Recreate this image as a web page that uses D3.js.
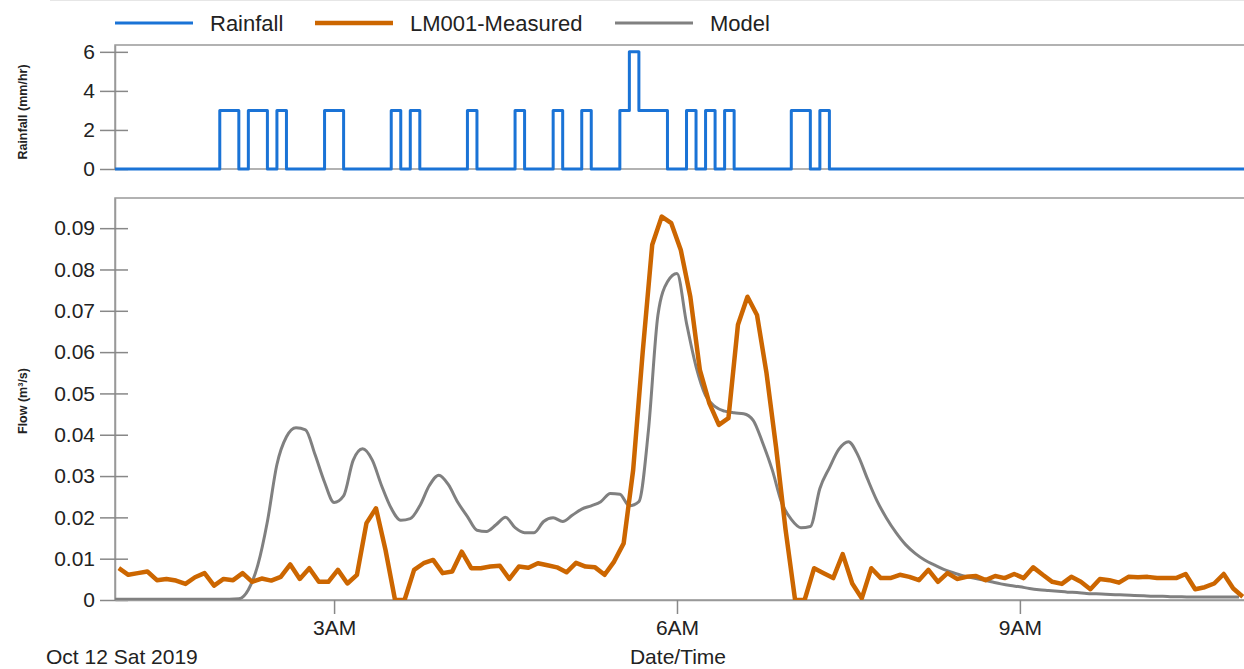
<!DOCTYPE html>
<html>
<head>
<meta charset="utf-8">
<script src="https://cdn.jsdelivr.net/npm/d3@7"></script>
<style>
  body { margin: 0; background: #fff; }
  svg { display: block; font-family: "Liberation Sans", Arial, sans-serif; }
</style>
</head>
<body>
<svg></svg>
<script>
// layout
var width = 1244;
var height = 669;
var left = 115;
var right = 1248.5;
var rainTop = 45, rainBottom = 169;
var flowTop = 198, flowBottom = 600;

// data
var chartStart = '01:05';
var chartEnd = '11:00';
var seriesNames = ['Rainfall', 'LM001-Measured', 'Model'];
var seriesColors = ['#1a73d6', '#cc6600', '#808080'];

var rainTimes = ['01:05', '02:00', '02:10', '02:15', '02:25', '02:30', '02:35', '02:55', '03:05',
  '03:30', '03:35', '03:40', '03:45', '04:10', '04:15', '04:35', '04:40', '04:55', '05:00',
  '05:10', '05:15', '05:30', '05:35', '05:40', '05:55', '06:05', '06:10', '06:15', '06:20',
  '06:25', '06:30', '07:00', '07:10', '07:15', '07:20', '11:00'];
var rainValues = [0, 3, 0, 3, 0, 3, 0, 3, 0,
  3, 0, 3, 0, 3, 0, 3, 0, 3, 0,
  3, 0, 3, 6, 3, 0, 3, 0, 3, 0,
  3, 0, 3, 0, 3, 0, 0];

var stepMinutes = 5;
var measuredStart = '01:07';
var measuredValues = [
  0.0077, 0.0061, 0.0065, 0.0069, 0.0048, 0.0051, 0.0047, 0.0039, 0.0055, 0.0065,
  0.0035, 0.0051, 0.0048, 0.0065, 0.0044, 0.0052, 0.0047, 0.0056, 0.0086, 0.0051,
  0.0077, 0.0044, 0.0044, 0.0073, 0.0040, 0.0061, 0.0186, 0.0222, 0.0121, 0.0000,
  0.0000, 0.0073, 0.0089, 0.0097, 0.0065, 0.0069, 0.0117, 0.0077, 0.0077, 0.0081,
  0.0083, 0.0051, 0.0081, 0.0078, 0.0089, 0.0084, 0.0079, 0.0067, 0.0090, 0.0081,
  0.0079, 0.0061, 0.0093, 0.0137, 0.0315, 0.0600, 0.0860, 0.0928, 0.0912, 0.0847,
  0.0734, 0.0557, 0.0476, 0.0424, 0.0440, 0.0666, 0.0734, 0.0690, 0.0549, 0.0370,
  0.0170, 0.0000, 0.0000, 0.0077, 0.0065, 0.0053, 0.0111, 0.0040, 0.0004, 0.0077,
  0.0053, 0.0053, 0.0061, 0.0056, 0.0048, 0.0073, 0.0044, 0.0065, 0.0051, 0.0056,
  0.0058, 0.0048, 0.0058, 0.0053, 0.0063, 0.0053, 0.0079, 0.0061, 0.0044, 0.0039,
  0.0056, 0.0044, 0.0026, 0.0051, 0.0048, 0.0042, 0.0056, 0.0055, 0.0056, 0.0053,
  0.0053, 0.0053, 0.0063, 0.0026, 0.0031, 0.0040, 0.0063, 0.0028, 0.0008];

var modelStart = '01:05';
var modelValues = [
  0.0002, 0.0002, 0.0002, 0.0002, 0.0002, 0.0002, 0.0002, 0.0002, 0.0002, 0.0002,
  0.0002, 0.0002, 0.0002, 0.0003, 0.0025, 0.0085, 0.0190, 0.0328, 0.0395, 0.0417,
  0.0412, 0.0352, 0.0285, 0.0236, 0.0252, 0.0338, 0.0366, 0.0339, 0.0276, 0.0222,
  0.0193, 0.0197, 0.0228, 0.0277, 0.0302, 0.0279, 0.0236, 0.0202, 0.0169, 0.0166,
  0.0182, 0.0200, 0.0175, 0.0163, 0.0163, 0.0190, 0.0199, 0.0190, 0.0205, 0.0220,
  0.0228, 0.0238, 0.0258, 0.0256, 0.0228, 0.0238, 0.0410, 0.0690, 0.0770, 0.0790,
  0.0670, 0.0565, 0.0495, 0.0468, 0.0457, 0.0453, 0.0451, 0.0435, 0.0380, 0.0315,
  0.0235, 0.0195, 0.0175, 0.0178, 0.0270, 0.0320, 0.0365, 0.0383, 0.0350, 0.0293,
  0.0240, 0.0198, 0.0163, 0.0134, 0.0113, 0.0097, 0.0085, 0.0074, 0.0066, 0.0059,
  0.0054, 0.0049, 0.0044, 0.0039, 0.0035, 0.0032, 0.0028, 0.0025, 0.0023, 0.0021,
  0.0019, 0.0018, 0.0016, 0.0015, 0.0014, 0.0013, 0.0012, 0.0011, 0.0010, 0.0009,
  0.0009, 0.0008, 0.0008, 0.0007, 0.0007, 0.0007, 0.0007, 0.0007, 0.0007];

var rainTicks = [0, 2, 4, 6];
var flowTicks = [0, 0.01, 0.02, 0.03, 0.04, 0.05, 0.06, 0.07, 0.08, 0.09];

function at(hm) {
  var p = hm.split(':');
  return new Date(2019, 9, 12, +p[0], +p[1]);
}
function series(start, values) {
  return values.map((v, i) => ({ t: d3.timeMinute.offset(at(start), i * stepMinutes), v: v }));
}

var rain = rainTimes.map((t, i) => ({ t: at(t), v: rainValues[i] }));
var measured = series(measuredStart, measuredValues);
var model = series(modelStart, modelValues);

var xScale = d3.scaleTime().domain([at(chartStart), at(chartEnd)]).range([left, right]);
var rainY = d3.scaleLinear().domain([0, 6.35]).range([rainBottom, rainTop]);
var flowY = d3.scaleLinear().domain([0, 0.0973]).range([flowBottom, flowTop]);

var svg = d3.select('svg').attr('width', width).attr('height', height);

svg.append('line')
  .attr('x1', 50).attr('x2', width).attr('y1', 0.5).attr('y2', 0.5)
  .attr('stroke', '#e6e6e6');

// legend
var legendX = [115, 315, 615];
seriesNames.forEach(function (name, i) {
  svg.append('line')
    .attr('x1', legendX[i]).attr('x2', legendX[i] + 78)
    .attr('y1', 23).attr('y2', 23)
    .attr('stroke', seriesColors[i])
    .attr('stroke-width', i == 1 ? 4.5 : 3);
  svg.append('text')
    .attr('x', legendX[i] + 95).attr('y', 31)
    .attr('font-size', 22).attr('fill', '#222')
    .text(name);
});

// frames
function frame(top, bottom) {
  svg.append('rect')
    .attr('x', left).attr('y', top)
    .attr('width', 1200).attr('height', bottom - top)
    .attr('fill', 'none').attr('stroke', '#999').attr('stroke-width', 1.5);
}
frame(rainTop, rainBottom);
frame(flowTop, flowBottom);

function styleAxis(g) {
  g.select('.domain').attr('stroke', '#999').attr('stroke-width', 1.5);
  g.selectAll('.tick line').attr('stroke', '#888').attr('stroke-width', 1.5);
  g.selectAll('.tick text').attr('fill', '#222').attr('font-size', 21)
    .attr('font-family', '"Liberation Sans", Arial, sans-serif');
}

var rainAxis = svg.append('g')
  .attr('transform', 'translate(' + left + ',0)')
  .call(d3.axisLeft(rainY).tickValues(rainTicks).tickSize(15).tickPadding(5).tickSizeOuter(0)
    .tickFormat(d3.format('d')))
  .call(styleAxis);
rainAxis.selectAll('.tick line').attr('x1', 13);

var flowAxis = svg.append('g')
  .attr('transform', 'translate(' + left + ',0)')
  .call(d3.axisLeft(flowY).tickValues(flowTicks).tickSize(15).tickPadding(5).tickSizeOuter(0)
    .tickFormat(d => d === 0 ? '0' : d3.format('.2f')(d)))
  .call(styleAxis);
flowAxis.selectAll('.tick line').attr('x1', 13);

svg.append('g')
  .attr('transform', 'translate(0,' + flowBottom + ')')
  .call(d3.axisBottom(xScale).ticks(d3.timeHour.every(3)).tickSize(14).tickPadding(6).tickSizeOuter(0)
    .tickFormat(d3.timeFormat('%-I%p')))
  .call(styleAxis);

svg.append('text')
  .attr('x', 46).attr('y', 664)
  .attr('font-size', 21).attr('fill', '#222')
  .text(d3.timeFormat('%b %d %a %Y')(at(chartStart)));

svg.append('text')
  .attr('x', 678).attr('y', 664)
  .attr('text-anchor', 'middle')
  .attr('font-size', 21).attr('fill', '#222')
  .text('Date/Time');

svg.append('text')
  .attr('transform', 'translate(27,112) rotate(-90)')
  .attr('text-anchor', 'middle')
  .attr('font-size', 12.5).attr('font-weight', 'bold').attr('fill', '#222')
  .text('Rainfall (mm/hr)');

svg.append('text')
  .attr('transform', 'translate(27,401) rotate(-90)')
  .attr('text-anchor', 'middle')
  .attr('font-size', 12.5).attr('font-weight', 'bold').attr('fill', '#222')
  .text('Flow (m³/s)');

// clip
svg.append('clipPath').attr('id', 'flowClip')
  .append('rect')
  .attr('x', left).attr('y', flowTop)
  .attr('width', right - left).attr('height', flowBottom - flowTop);

// rainfall
svg.append('path')
  .datum(rain)
  .attr('fill', 'none')
  .attr('stroke', seriesColors[0])
  .attr('stroke-width', 3)
  .attr('stroke-linejoin', 'round')
  .attr('d', d3.line().x(d => xScale(d.t)).y(d => rainY(d.v)).curve(d3.curveStepAfter));

// flow
var flowPlot = svg.append('g').attr('clip-path', 'url(#flowClip)');
flowPlot.append('path')
  .datum(model)
  .attr('fill', 'none')
  .attr('stroke', seriesColors[2])
  .attr('stroke-width', 3)
  .attr('d', d3.line().x(d => xScale(d.t)).y(d => flowY(d.v)).curve(d3.curveMonotoneX));

flowPlot.append('path')
  .datum(measured)
  .attr('fill', 'none')
  .attr('stroke', seriesColors[1])
  .attr('stroke-width', 4.5)
  .attr('stroke-linejoin', 'round')
  .attr('d', d3.line().x(d => xScale(d.t)).y(d => flowY(d.v)));
</script>
</body>
</html>
